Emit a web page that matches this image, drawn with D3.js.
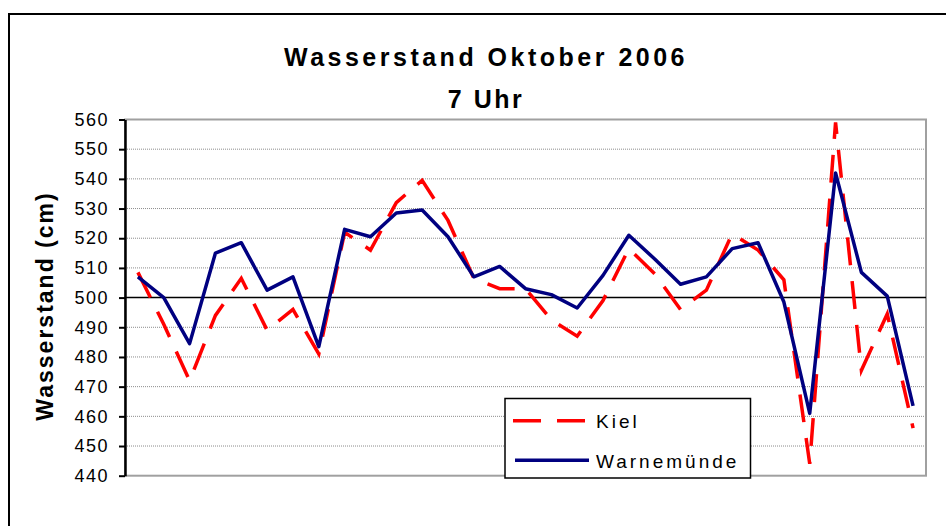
<!DOCTYPE html>
<html>
<head>
<meta charset="utf-8">
<script src="https://cdn.jsdelivr.net/npm/d3@7"></script>
<style>
  body { margin: 0; background: #fff; }
  svg text { font-family: "Liberation Sans", Arial, sans-serif; }
</style>
</head>
<body>
<svg id="chart" width="946" height="526"></svg>
<script>
// water level, 7 o'clock, October 2006 (cm)
var days = d3.range(1, 32);
var kiel = [508.5, 491, 472, 494, 506.5, 489, 496, 481, 522, 516,
            532, 539.5, 526, 506.5, 503, 503, 492.5, 487, 499, 516.5,
            508, 496, 502.5, 521.5, 516, 506, 444, 559, 475.5, 494.5, 456];
var warnemuende = [507, 500, 484.5, 515, 518.5, 502.5, 507, 483.5, 523, 520.5,
                   528.5, 529.5, 520.5, 507, 510.5, 503, 501, 496.5, 507.5, 521,
                   513, 504.5, 507, 516.5, 518.5, 498.5, 461, 542, 508.5, 500.5, 463.5];
var yTicks = d3.range(440, 561, 10);
var seriesNames = ["Kiel", "Warnemünde"];

var svg = d3.select("#chart");

// outer frame
svg.append("rect")
  .attr("x", 9).attr("y", 14)
  .attr("width", 960).attr("height", 540)
  .attr("fill", "none").attr("stroke", "#000").attr("stroke-width", 2);

var plotLeft = 125, plotRight = 926, plotTop = 119.5, plotBottom = 475.7;

var x = d3.scaleBand().domain(days).range([plotLeft, plotRight]);
var y = d3.scaleLinear().domain([440, 560]).range([plotBottom, plotTop]);

// title
svg.append("text")
  .attr("x", 486).attr("y", 66)
  .attr("text-anchor", "middle")
  .style("font-size", "25px").style("font-weight", "bold")
  .style("letter-spacing", "3.5px")
  .text("Wasserstand Oktober 2006");
svg.append("text")
  .attr("x", 486).attr("y", 108)
  .attr("text-anchor", "middle")
  .style("font-size", "25px").style("font-weight", "bold")
  .style("letter-spacing", "2.5px")
  .text("7 Uhr");

// gridlines
svg.append("g")
  .selectAll("line")
  .data(yTicks.filter(function (d) { return d != 440 && d != 560 && d != 500; }))
  .enter().append("line")
  .attr("x1", plotLeft).attr("x2", plotRight)
  .attr("y1", function (d) { return y(d); })
  .attr("y2", function (d) { return y(d); })
  .attr("stroke", "#8c8c8c").attr("stroke-width", 1)
  .style("stroke-dasharray", "1,1");

// plot area border
svg.append("rect")
  .attr("x", plotLeft).attr("y", plotTop)
  .attr("width", plotRight - plotLeft).attr("height", plotBottom - plotTop)
  .attr("fill", "none").attr("stroke", "#a0a0a0").attr("stroke-width", 2);

// reference line at 500
svg.append("line")
  .attr("x1", plotLeft).attr("x2", plotRight)
  .attr("y1", y(500)).attr("y2", y(500))
  .attr("stroke", "#000").attr("stroke-width", 1.5);

// y axis
var yAxis = svg.append("g")
  .attr("transform", "translate(" + plotLeft + ",0)")
  .call(d3.axisLeft(y).tickValues(yTicks).tickSize(6).tickPadding(10).tickSizeOuter(0));
yAxis.select(".domain").attr("stroke", "#000").attr("stroke-width", 2.5);
yAxis.selectAll(".tick line").attr("stroke", "#000").attr("stroke-width", 2);
yAxis.selectAll(".tick text")
  .attr("fill", "#000")
  .style("font-size", "18px")
  .style("letter-spacing", "1.5px")
  .style("font-family", "'Liberation Sans', Arial, sans-serif");

svg.append("text")
  .attr("transform", "translate(53,306) rotate(-90)")
  .attr("text-anchor", "middle")
  .style("font-size", "23px").style("font-weight", "bold")
  .style("letter-spacing", "2px")
  .text("Wasserstand (cm)");

var line = d3.line()
  .x(function (d, i) { return x(days[i]) + x.bandwidth() / 2; })
  .y(function (d) { return y(d); });

svg.append("path")
  .attr("d", line(kiel))
  .attr("fill", "none").attr("stroke", "#ff0000")
  .attr("stroke-width", 3.5)
  .style("stroke-dasharray", "28,16");

svg.append("path")
  .attr("d", line(warnemuende))
  .attr("fill", "none").attr("stroke", "#000080")
  .attr("stroke-width", 3.5)
  .attr("stroke-linejoin", "round");

// legend
var lg = svg.append("g");
lg.append("rect")
  .attr("x", 505).attr("y", 398.5)
  .attr("width", 245.5).attr("height", 79.5)
  .attr("fill", "#fff").attr("stroke", "#000").attr("stroke-width", 1.5);
lg.append("line")
  .attr("x1", 513).attr("x2", 587).attr("y1", 420.7).attr("y2", 420.7)
  .attr("stroke", "#ff0000").attr("stroke-width", 3.5)
  .style("stroke-dasharray", "28,16");
lg.append("line")
  .attr("x1", 515).attr("x2", 589).attr("y1", 460.3).attr("y2", 460.3)
  .attr("stroke", "#000080").attr("stroke-width", 3.5);
lg.selectAll("text.lab")
  .data(seriesNames)
  .enter().append("text")
  .attr("x", 596)
  .attr("y", function (d, i) { return 428 + i * 40; })
  .style("font-size", "19px")
  .style("letter-spacing", "3px")
  .text(function (d) { return d; });
</script>
</body>
</html>
